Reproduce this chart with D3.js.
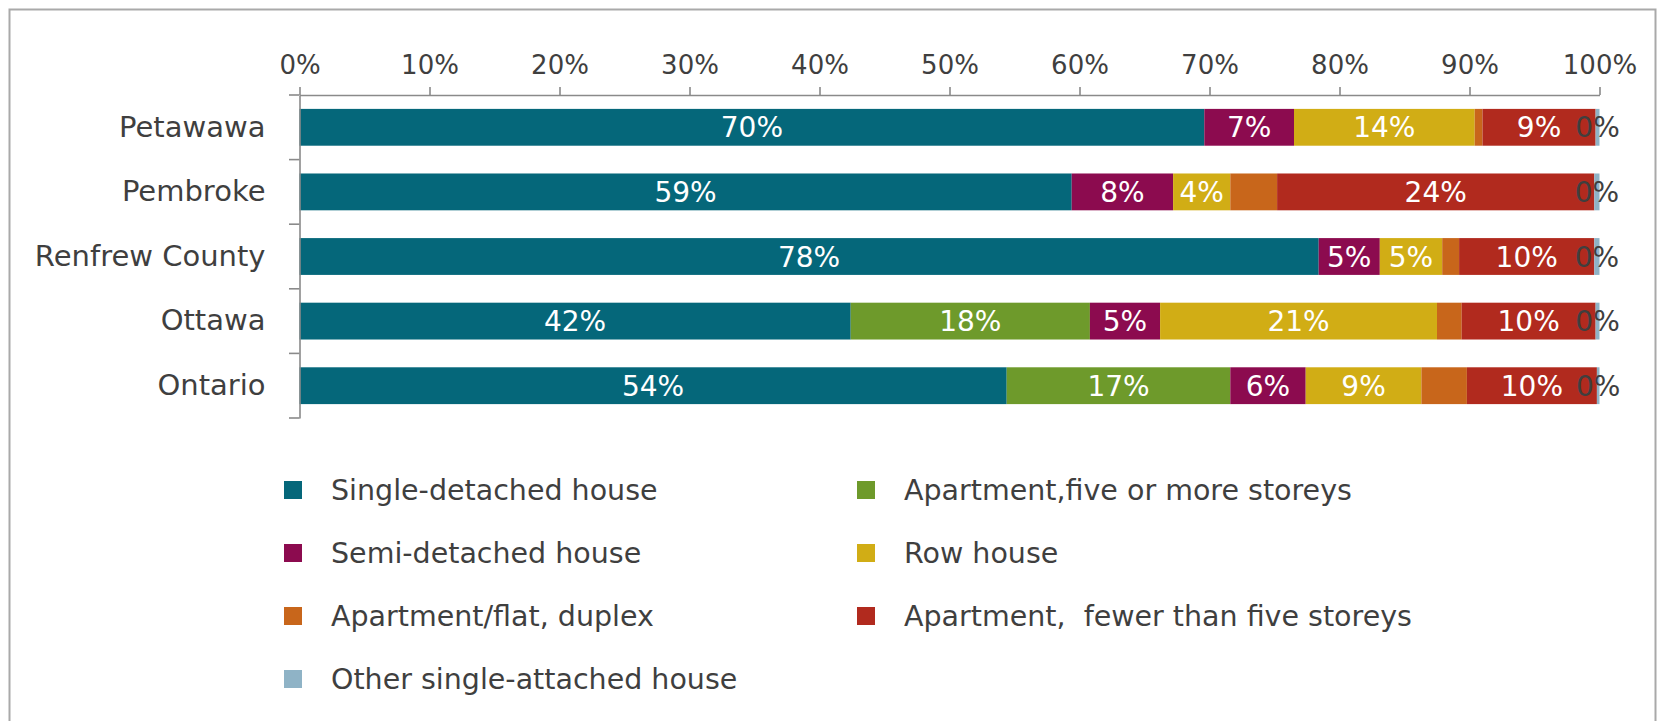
<!DOCTYPE html>
<html>
<head>
<meta charset="utf-8">
<script src="https://cdn.jsdelivr.net/npm/d3@7"></script>
<style>
  html, body { margin: 0; padding: 0; background: #ffffff; }
  svg { display: block; }
  text { font-family: "DejaVu Sans", sans-serif; white-space: pre; }
</style>
</head>
<body>
<svg id="chart" width="1665" height="721"></svg>
<script>
// ---- data ----
const categories = ["Petawawa", "Pembroke", "Renfrew County", "Ottawa", "Ontario"];
const seriesNames = [
  "Single-detached house",
  "Apartment,five or more storeys",
  "Semi-detached house",
  "Row house",
  "Apartment/flat, duplex",
  "Apartment,  fewer than five storeys",
  "Other single-attached house"
];
const singleDetached = [69.6, 59.4, 78.4, 42.4, 54.4];
const aptFivePlus     = [0.0, 0.0, 0.0, 18.4, 17.2];
const semiDetached    = [6.9, 7.8, 4.7, 5.4, 5.8];
const rowHouse        = [13.9, 4.4, 4.8, 21.3, 8.9];
const aptDuplex       = [0.6, 3.6, 1.3, 1.9, 3.5];
const aptFewerFive    = [8.7, 24.4, 10.4, 10.3, 10.0];
const otherAttached   = [0.3, 0.4, 0.4, 0.3, 0.2];
const seriesColors = ["#05677a", "#6e9a2b", "#8c0b4f", "#d1ad15", "#c8661b", "#b12a1e", "#8fb3c6"];
const xTicks = [0, 10, 20, 30, 40, 50, 60, 70, 80, 90, 100];

const seriesValues = [singleDetached, aptFivePlus, semiDetached, rowHouse, aptDuplex, aptFewerFive, otherAttached];

// ---- build table ----
const rows = categories.map((c, i) => {
  const r = { category: c };
  seriesNames.forEach((s, j) => { r[s] = seriesValues[j][i]; });
  return r;
});
const stack = d3.stack().keys(seriesNames)(rows);

const svg = d3.select("#chart");

// outer border
svg.append("rect")
  .attr("x", 9.5).attr("y", 9.5)
  .attr("width", 1646).attr("height", 730)
  .attr("fill", "none").attr("stroke", "#a9a9a9").attr("stroke-width", 2);

const x = d3.scaleLinear().domain([0, 100]).range([299.5, 1599.5]);
const y = d3.scaleBand().domain(categories).range([95, 418]).paddingInner(0.43).paddingOuter(0.215);
const yAxisScale = d3.scaleBand().domain(categories).range([95, 418]);

// bars
stack.forEach((layer, j) => {
  svg.append("g").selectAll("rect")
    .data(layer)
    .join("rect")
    .attr("x", d => x(d[0]))
    .attr("y", d => y(d.data.category))
    .attr("width", d => Math.max(0, x(d[1]) - x(d[0])))
    .attr("height", y.bandwidth())
    .attr("fill", seriesColors[j]);
});

// data labels
const noLabel = new Set(["Apartment/flat, duplex"]);
stack.forEach((layer, j) => {
  const name = seriesNames[j];
  if (noLabel.has(name)) return;
  const isOther = name === "Other single-attached house";
  svg.append("g").selectAll("text")
    .data(layer.filter(d => isOther || (d[1] - d[0]) > 0))
    .join("text")
    .attr("x", d => (x(d[0]) + x(d[1])) / 2)
    .attr("y", d => y(d.data.category) + y.bandwidth() / 2)
    .attr("dy", "0.36em")
    .attr("text-anchor", "middle")
    .attr("font-size", 28)
    .attr("fill", isOther ? "#3f3f3f" : "#ffffff")
    .text(d => Math.round(d[1] - d[0]) + "%");
});

// top x axis
const xAxis = d3.axisTop(x).tickValues(xTicks).tickFormat(d => d + "%").tickSize(8).tickSizeOuter(0);
const gx = svg.append("g").attr("transform", "translate(0,95)").call(xAxis);
gx.select(".domain").attr("stroke", "#8a8a8a").attr("stroke-width", 1.6);
gx.selectAll(".tick line").attr("stroke", "#8a8a8a").attr("stroke-width", 1.6);
gx.selectAll(".tick text").attr("font-size", 26).attr("fill", "#3f3f3f")
  .attr("font-family", "DejaVu Sans").attr("y", -21);

// left category axis
const yAxis = d3.axisLeft(yAxisScale).tickSize(0).tickPadding(34);
const gy = svg.append("g").attr("transform", "translate(299.5,0)").call(yAxis);
gy.select(".domain").attr("stroke", "#8a8a8a").attr("stroke-width", 1.6);
gy.selectAll(".tick text").attr("font-size", 29).attr("fill", "#3f3f3f").attr("font-family", "DejaVu Sans");
// boundary tick marks
const bounds = categories.map(c => yAxisScale(c)).concat([yAxisScale(categories[categories.length - 1]) + yAxisScale.bandwidth()]);
svg.append("g").selectAll("line")
  .data(bounds)
  .join("line")
  .attr("x1", 289).attr("x2", 299.5)
  .attr("y1", d => d).attr("y2", d => d)
  .attr("stroke", "#8a8a8a").attr("stroke-width", 1.6);

// legend
const legendCols = [293, 866];
const legendRows = [490, 553, 616, 679];
const legend = svg.append("g");
seriesNames.forEach((s, i) => {
  const cx = legendCols[i % 2];
  const cy = legendRows[Math.floor(i / 2)];
  legend.append("rect")
    .attr("x", cx - 9).attr("y", cy - 9)
    .attr("width", 18).attr("height", 18)
    .attr("fill", seriesColors[i]);
  legend.append("text")
    .attr("x", cx + 38).attr("y", cy)
    .attr("dy", "0.36em")
    .attr("font-size", 28.5)
    .attr("fill", "#3f3f3f")
    .text(s);
});
</script>
</body>
</html>
